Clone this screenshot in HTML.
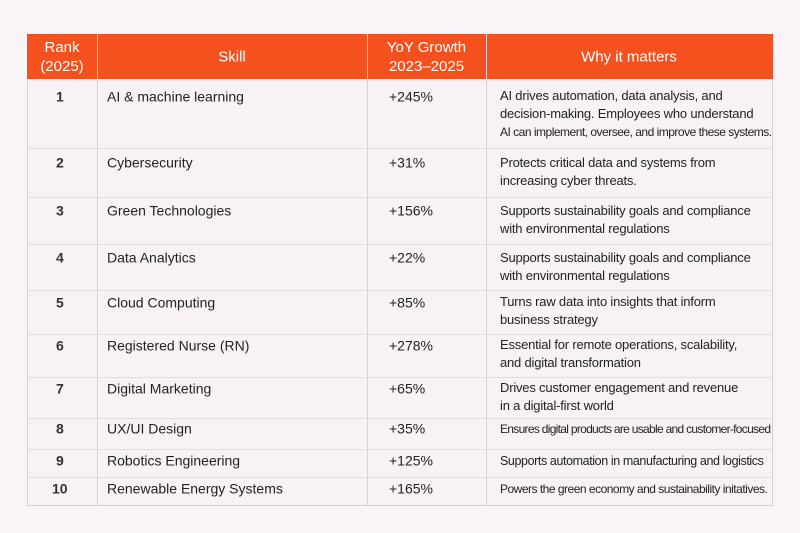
<!DOCTYPE html>
<html><head><meta charset="utf-8"><style>
body{margin:0;width:800px;height:533px;background:#f9f4f7;font-family:"Liberation Sans",sans-serif;position:relative;overflow:hidden}
.t{position:absolute;white-space:nowrap;color:#222;font-size:14px;line-height:17px;transform:translateY(-50%)}
.w{font-size:13px;line-height:18px;letter-spacing:-0.2px}
.h{color:#fff;font-size:15px;text-align:center;line-height:19px}
.r{font-weight:bold;color:#333}
.vl{position:absolute;top:34px;width:1px;height:471px;background:#d6cfd8}
.hl{position:absolute;left:27px;width:745px;height:1px;background:#e2dbe2}
</style></head><body>
<div style="position:absolute;left:27px;top:34px;width:744px;height:470px;border:1px solid #d6cfd8;background:#f8f2f6"></div>
<div style="position:absolute;left:27px;top:34px;width:746px;height:45px;background:#f4511e"></div>
<div class="vl" style="left:97px"></div><div class="vl" style="left:367px"></div><div class="vl" style="left:486px"></div>
<div class="hl" style="top:148px"></div><div class="hl" style="top:197px"></div><div class="hl" style="top:244px"></div><div class="hl" style="top:290px"></div><div class="hl" style="top:334px"></div><div class="hl" style="top:377px"></div><div class="hl" style="top:418px"></div><div class="hl" style="top:449px"></div><div class="hl" style="top:477px"></div>
<div class="t h" style="left:27px;width:70px;top:57px">Rank<br>(2025)</div>
<div class="t h" style="left:97px;width:270px;top:57px">Skill</div>
<div class="t h" style="left:367px;width:119px;top:57px">YoY Growth<br>2023–2025</div>
<div class="t h" style="left:486px;width:286px;top:57px">Why it matters</div>

<div class="t r" style="left:56px;top:97px">1</div><div class="t" style="left:107px;top:97px">AI &amp; machine learning</div><div class="t" style="left:389px;top:97px">+245%</div>
<div class="t w" style="left:500px;top:114px">AI drives automation, data analysis, and<br>decision-making. Employees who understand<br><span style="font-size:12px;letter-spacing:-0.5px">AI can implement, oversee, and improve these systems.</span></div>
<div class="t r" style="left:56px;top:163px">2</div><div class="t" style="left:107px;top:163px">Cybersecurity</div><div class="t" style="left:389px;top:163px">+31%</div>
<div class="t w" style="left:500px;top:172px">Protects critical data and systems from<br>increasing cyber threats.</div>
<div class="t r" style="left:56px;top:211px">3</div><div class="t" style="left:107px;top:211px">Green Technologies</div><div class="t" style="left:389px;top:211px">+156%</div>
<div class="t w" style="left:500px;top:220px">Supports sustainability goals and compliance<br>with environmental regulations</div>
<div class="t r" style="left:56px;top:258px">4</div><div class="t" style="left:107px;top:258px">Data Analytics</div><div class="t" style="left:389px;top:258px">+22%</div>
<div class="t w" style="left:500px;top:267px">Supports sustainability goals and compliance<br>with environmental regulations</div>
<div class="t r" style="left:56px;top:303px">5</div><div class="t" style="left:107px;top:303px">Cloud Computing</div><div class="t" style="left:389px;top:303px">+85%</div>
<div class="t w" style="left:500px;top:311px">Turns raw data into insights that inform<br>business strategy</div>
<div class="t r" style="left:56px;top:346px">6</div><div class="t" style="left:107px;top:346px">Registered Nurse (RN)</div><div class="t" style="left:389px;top:346px">+278%</div>
<div class="t w" style="left:500px;top:354px">Essential for remote operations, scalability,<br>and digital transformation</div>
<div class="t r" style="left:56px;top:389px">7</div><div class="t" style="left:107px;top:389px">Digital Marketing</div><div class="t" style="left:389px;top:389px">+65%</div>
<div class="t w" style="left:500px;top:397px">Drives customer engagement and revenue<br>in a digital-first world</div>
<div class="t r" style="left:56px;top:429px">8</div><div class="t" style="left:107px;top:429px">UX/UI Design</div><div class="t" style="left:389px;top:429px">+35%</div>
<div class="t w" style="left:500px;top:429px;font-size:12px;letter-spacing:-0.7px">Ensures digital products are usable and customer-focused</div>
<div class="t r" style="left:56px;top:461px">9</div><div class="t" style="left:107px;top:461px">Robotics Engineering</div><div class="t" style="left:389px;top:461px">+125%</div>
<div class="t w" style="left:500px;top:461px;font-size:12.5px;letter-spacing:-0.4px">Supports automation in manufacturing and logistics</div>
<div class="t r" style="left:52px;top:489px">10</div><div class="t" style="left:107px;top:489px">Renewable Energy Systems</div><div class="t" style="left:389px;top:489px">+165%</div>
<div class="t w" style="left:500px;top:489px;font-size:12px;letter-spacing:-0.5px">Powers the green economy and sustainability initatives.</div>
</body></html>
